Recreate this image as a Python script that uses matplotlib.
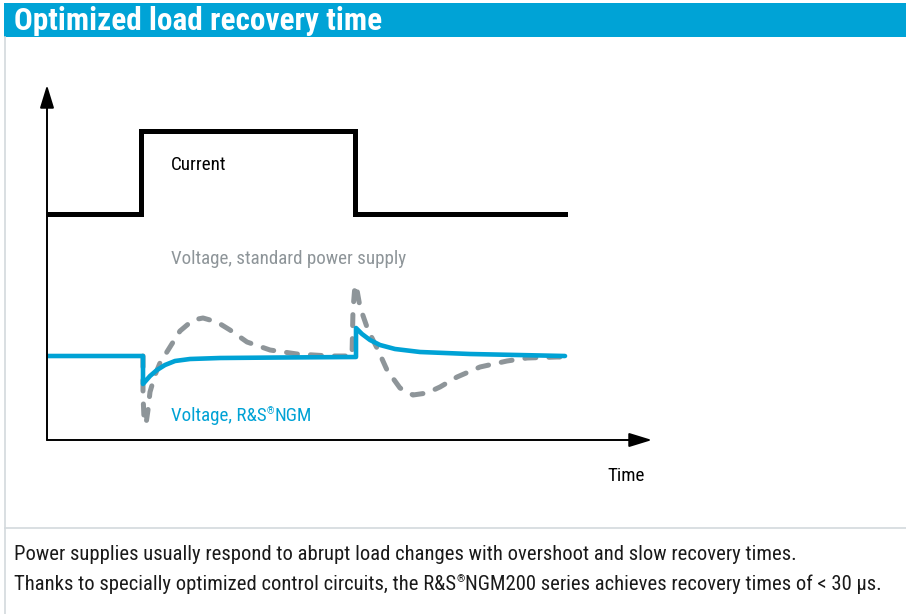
import matplotlib
matplotlib.use("Agg")
import matplotlib.pyplot as plt
from matplotlib.patches import Rectangle
from matplotlib.lines import Line2D

# ---- data (arbitrary time / level units) ----
current_t = [0, 94, 94, 308, 308, 518]
current_v = [226, 226, 309, 309, 226, 226]

ngm_t = [0, 96, 96, 103, 110, 118, 128, 143, 173, 233, 309, 309, 315, 323, 333, 348, 373, 423, 518]
ngm_v = [84, 84, 56, 64, 70, 75, 79, 81, 82, 82.5, 83, 112, 106, 100, 95, 91, 88, 86, 84]

std_t = [96, 96, 97, 99, 101, 103, 108, 113, 123, 133, 146, 156, 170, 183, 200, 223, 250, 283,
         305, 306, 308, 310, 313, 321, 331, 340, 353, 366, 380, 393, 410, 433, 460, 480, 510, 518]
std_v = [84, 45, 22, 16, 30, 48, 65, 77, 93, 109, 120, 122, 118, 110, 98, 90, 86, 84,
         84, 130, 155, 150, 133, 110, 90, 70, 52, 45, 47, 53, 63, 73, 79, 82, 83, 83]

title = "Optimized load recovery time"
label_current = "Current"
label_std = "Voltage, standard power supply"
label_ngm = ["Voltage, R&S", "\u00ae", "NGM"]
label_time = "Time"
caption1 = "Power supplies usually respond to abrupt load changes with overshoot and slow recovery times."
caption2 = ["Thanks to specially optimized control circuits, the R&S", "\u00ae",
            "NGM200 series achieves recovery times of < 30 \u00b5s."]

BLUE = "#00a2d5"
GRAY = "#8e9599"
SEP = "#d3d9dd"
FONT = ["Roboto Condensed", "Roboto", "DejaVu Sans"]

W, H = 906, 614
fig = plt.figure(figsize=(W / 100, H / 100), dpi=100)
fig.patch.set_facecolor("white")
renderer = fig.canvas.get_renderer()


def fit_size(t, target_px):
    """Font size at which text t renders target_px wide."""
    t.set_fontsize(10)
    w = t.get_window_extent(renderer).width
    return 10 * target_px / w


def fit(t, target_px):
    t.set_fontsize(fit_size(t, target_px))
    return t


def reg_text(axes, x, y, parts, size, color):
    """Text with a small raised registered mark in the middle."""
    t1 = axes.text(x, y, parts[0], family=FONT, fontsize=size, color=color,
                   va="baseline", ha="left")
    t2 = axes.annotate(parts[1], xy=(1, y), xycoords=(t1, "data"), xytext=(0.3, 0.36 * size),
                       textcoords="offset points", family=FONT, fontsize=0.5 * size,
                       color=color, va="baseline", ha="left")
    axes.annotate(parts[2], xy=(1, y), xycoords=(t2, "data"), xytext=(0.3, 0),
                  textcoords="offset points", family=FONT, fontsize=size, color=color,
                  va="baseline", ha="left")


# decoration layer in pixel coordinates
bg = fig.add_axes([0, 0, 1, 1])
bg.set_xlim(0, W)
bg.set_ylim(H, 0)
bg.axis("off")
bg.add_patch(Rectangle((4, 3), W - 4, 34, color="#00a3d6", lw=0))
bg.add_line(Line2D([4.5, 4.5], [37, H], color=SEP, lw=1.2))
bg.add_line(Line2D([4.5, W], [528, 528], color=SEP, lw=1.2))
fit(bg.text(14, 20.5, title, color="white", fontweight="bold", family=FONT,
            va="center", ha="left"), 368)
c1 = bg.text(14, 560, caption1, family=FONT, va="baseline", ha="left", color="#1a1a1a")
probe = bg.text(0, 0, caption2[0] + caption2[2], family=FONT)
cs = 0.5 * (fit_size(c1, 762) + fit_size(probe, 870))
probe.remove()
c1.set_fontsize(cs)
reg_text(bg, 14, 590, caption2, cs, "#1a1a1a")

# chart axes
ax = fig.add_axes([47 / W, (H - 440) / H, 605 / W, 355 / H])
ax.set_xlim(0, 605)
ax.set_ylim(0, 355)
ax.axis("off")
ax.patch.set_alpha(0)

ax.plot(std_t, std_v, color=GRAY, lw=3.6, dashes=(2.2, 2.6), dash_capstyle="round",
        solid_capstyle="round", dash_joinstyle="round", zorder=2)
ax.plot(ngm_t, ngm_v, color=BLUE, lw=3.3, solid_capstyle="round", solid_joinstyle="round", zorder=3)
ax.plot(current_t, current_v, color="black", lw=3.6, solid_joinstyle="miter", zorder=3)

arrow = dict(arrowstyle="-|>,head_length=14,head_width=4.3", mutation_scale=1,
             lw=1.4, color="black", shrinkA=0, shrinkB=0)
ax.annotate("", xy=(0, 1), xytext=(0, 0), xycoords="axes fraction", arrowprops=arrow)
ax.annotate("", xy=(1, 0), xytext=(0, 0), xycoords="axes fraction", arrowprops=arrow)

s = fit(ax.text(124, 176, label_std, family=FONT, va="baseline", ha="left", color=GRAY), 235).get_fontsize()
ax.text(124, 270, label_current, family=FONT, fontsize=s, va="baseline", ha="left")
reg_text(ax, 124, 19, label_ngm, s, BLUE)
ax.text(579, -41, label_time, family=FONT, fontsize=s, va="baseline", ha="center", clip_on=False)

fig.savefig("out.png", dpi=100)
